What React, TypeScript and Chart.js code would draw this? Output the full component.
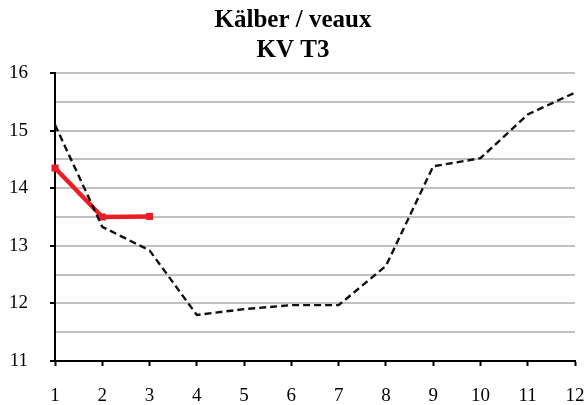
import React, { useEffect, useRef } from "react";
import { Chart, registerables } from "chart.js";

Chart.register(...registerables);

const categories = ["1", "2", "3", "4", "5", "6", "7", "8", "9", "10", "11", "12"];
const referenceValues = [15.1, 13.33, 12.92, 11.8, 11.9, 11.97, 11.97, 12.65, 14.38, 14.52, 15.28, 15.66];
const currentValues = [14.35, 13.5, 13.51, null, null, null, null, null, null, null, null, null];
const titleLines = ["Kälber / veaux", "KV T3"];

const SERIF = "'Liberation Serif', 'Times New Roman', serif";

export default function App() {
  const ref = useRef<HTMLCanvasElement | null>(null);

  useEffect(() => {
    if (!ref.current) return;
    const chart = new Chart(ref.current, {
      type: "line",
      data: {
        labels: categories,
        datasets: [
          {
            label: "ref",
            data: referenceValues,
            borderColor: "#111111",
            borderWidth: 2.4,
            borderDash: [7, 4],
            pointRadius: 0,
            tension: 0,
            fill: false,
          },
          {
            label: "current",
            data: currentValues,
            borderColor: "#ee1c25",
            backgroundColor: "#ee1c25",
            borderWidth: 4.5,
            pointStyle: "rect",
            pointRadius: 5,
            pointBorderWidth: 0,
            tension: 0,
            fill: false,
          },
        ],
      },
      options: {
        animation: false,
        responsive: false,
        maintainAspectRatio: false,
        layout: { padding: { left: 0, right: 0, top: 0, bottom: 0 } },
        plugins: {
          legend: { display: false },
          tooltip: { enabled: false },
          title: {
            display: true,
            text: titleLines,
            color: "#000000",
            font: { family: SERIF, size: 25, weight: "bold", lineHeight: 1.18 },
            padding: { top: 6, bottom: 8 },
          },
        },
        scales: {
          x: {
            type: "category",
            offset: false,
            afterFit: (scale: any) => {
              scale.height = 44;
              scale.paddingRight = 11;
              scale.paddingLeft = 0;
            },
            grid: {
              display: true,
              drawOnChartArea: false,
              drawTicks: true,
              tickLength: 5,
              tickColor: "#000000",
              tickWidth: 2,
            },
            border: { display: true, color: "#000000", width: 2 },
            ticks: {
              color: "#000000",
              padding: 19,
              maxRotation: 0,
              autoSkip: false,
              font: { family: SERIF, size: 19 },
            },
          },
          y: {
            min: 11,
            max: 16,
            afterFit: (scale: any) => {
              scale.width = 55;
            },
            grid: {
              color: (ctx: any) => (ctx.tick && ctx.tick.value === 11 ? "rgba(0,0,0,0)" : "#c0c0c0"),
              lineWidth: 2,
              drawTicks: true,
              tickLength: 5,
              tickWidth: 2,
              tickColor: (ctx: any) =>
                ctx.tick && Number.isInteger(ctx.tick.value) ? "#000000" : "rgba(0,0,0,0)",
            },
            border: { display: true, color: "#000000", width: 2 },
            ticks: {
              stepSize: 0.5,
              color: "#000000",
              padding: 22,
              callback: (v: any) => (Number.isInteger(Number(v)) ? String(v) : ""),
              font: { family: SERIF, size: 19 },
            },
          },
        },
      },
    });
    return () => chart.destroy();
  }, []);

  return (
    <div style={{ position: "fixed", left: 0, top: 0, width: 586, height: 405, background: "#ffffff" }}>
      <canvas ref={ref} width={586} height={405} style={{ display: "block", width: 586, height: 405 }} />
    </div>
  );
}
